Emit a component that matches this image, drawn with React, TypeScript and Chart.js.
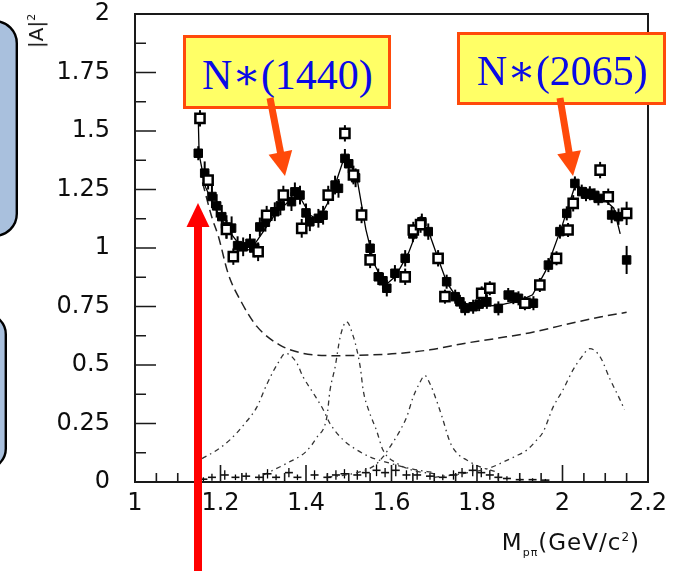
import React, { useEffect, useRef } from 'react';
import { Chart, registerables } from 'chart.js';

Chart.register(...registerables);

// ---- axis ticks ----
const xTickValues = [1, 1.2, 1.4, 1.6, 1.8, 2, 2.2];
const xTickLabels = ['1', '1.2', '1.4', '1.6', '1.8', '2', '2.2'];
const yTickValues = [0, 0.25, 0.5, 0.75, 1, 1.25, 1.5, 1.75, 2];
const yTickLabels = ['0', '0.25', '0.5', '0.75', '1', '1.25', '1.5', '1.75', '2'];

// ---- open-square data ----
const openX = [1.152, 1.171, 1.214, 1.230, 1.288, 1.308, 1.347, 1.390, 1.452, 1.491, 1.511, 1.530, 1.550, 1.632, 1.651, 1.668, 1.709, 1.725, 1.811, 1.830, 1.912, 1.947, 1.986, 2.013, 2.025, 2.088, 2.107, 2.150];
const openY = [1.554, 1.290, 1.080, 0.963, 0.984, 1.140, 1.226, 1.084, 1.226, 1.490, 1.312, 1.141, 0.949, 0.877, 1.077, 1.100, 0.956, 0.792, 0.806, 0.828, 0.764, 0.842, 0.956, 1.077, 1.191, 1.333, 1.219, 1.148];
const openErr = [0.035, 0.04, 0.04, 0.035, 0.04, 0.04, 0.04, 0.04, 0.04, 0.035, 0.04, 0.035, 0.035, 0.035, 0.035, 0.035, 0.035, 0.03, 0.03, 0.03, 0.03, 0.03, 0.03, 0.03, 0.035, 0.035, 0.035, 0.05];

// ---- filled data ----
const fillX = [1.148, 1.163, 1.180, 1.191, 1.203, 1.214, 1.226, 1.240, 1.253, 1.269, 1.280, 1.292, 1.305, 1.327, 1.340, 1.366, 1.374, 1.386, 1.400, 1.409, 1.429, 1.440, 1.468, 1.476, 1.491, 1.500, 1.516, 1.550, 1.569, 1.580, 1.589, 1.608, 1.632, 1.650, 1.671, 1.686, 1.729, 1.749, 1.760, 1.772, 1.791, 1.805, 1.823, 1.850, 1.873, 1.885, 1.897, 1.932, 1.967, 1.994, 2.010, 2.029, 2.045, 2.055, 2.064, 2.075, 2.084, 2.115, 2.131, 2.150];
const fillY = [1.405, 1.320, 1.220, 1.180, 1.134, 1.090, 1.085, 1.010, 1.005, 1.020, 1.000, 1.090, 1.110, 1.155, 1.180, 1.198, 1.240, 1.226, 1.150, 1.112, 1.127, 1.140, 1.269, 1.255, 1.383, 1.360, 1.300, 0.999, 0.877, 0.860, 0.828, 0.892, 0.956, 1.060, 1.112, 1.070, 0.856, 0.792, 0.770, 0.742, 0.749, 0.760, 0.770, 0.742, 0.799, 0.790, 0.785, 0.764, 0.927, 1.070, 1.148, 1.276, 1.241, 1.230, 1.234, 1.225, 1.212, 1.141, 1.134, 0.949];
const fillErr = [0.03, 0.05, 0.05, 0.05, 0.05, 0.05, 0.05, 0.04, 0.04, 0.04, 0.04, 0.04, 0.04, 0.04, 0.04, 0.04, 0.04, 0.04, 0.04, 0.04, 0.04, 0.04, 0.04, 0.04, 0.04, 0.04, 0.04, 0.035, 0.035, 0.035, 0.035, 0.035, 0.035, 0.035, 0.035, 0.035, 0.03, 0.03, 0.03, 0.03, 0.03, 0.03, 0.03, 0.03, 0.03, 0.03, 0.03, 0.03, 0.03, 0.03, 0.03, 0.03, 0.03, 0.03, 0.03, 0.03, 0.03, 0.035, 0.035, 0.06];

// ---- fit curve ----
const fitX = [1.148, 1.150, 1.165, 1.185, 1.200, 1.225, 1.250, 1.270, 1.300, 1.330, 1.360, 1.385, 1.410, 1.430, 1.450, 1.470, 1.490, 1.500, 1.520, 1.540, 1.560, 1.585, 1.610, 1.640, 1.665, 1.685, 1.710, 1.730, 1.760, 1.800, 1.850, 1.900, 1.930, 1.960, 2.000, 2.030, 2.060, 2.090, 2.120, 2.135];
const fitY = [1.555, 1.400, 1.260, 1.180, 1.130, 1.060, 1.000, 0.990, 1.070, 1.150, 1.200, 1.220, 1.140, 1.120, 1.190, 1.280, 1.390, 1.380, 1.290, 1.080, 0.930, 0.840, 0.880, 0.980, 1.100, 1.080, 0.950, 0.850, 0.770, 0.750, 0.755, 0.775, 0.800, 0.900, 1.100, 1.270, 1.240, 1.220, 1.170, 1.060];

// ---- background (dashed) ----
const bgX = [1.158, 1.180, 1.195, 1.218, 1.250, 1.285, 1.339, 1.393, 1.472, 1.550, 1.620, 1.690, 1.776, 1.850, 1.930, 2.000, 2.088, 2.150];
const bgY = [1.280, 1.130, 1.050, 0.890, 0.765, 0.665, 0.585, 0.550, 0.540, 0.543, 0.550, 0.565, 0.594, 0.615, 0.640, 0.670, 0.705, 0.725];

// ---- resonance contributions (dash-dot) ----
const r1X = [1.157, 1.192, 1.222, 1.257, 1.285, 1.309, 1.335, 1.352, 1.378, 1.393, 1.417, 1.440, 1.456, 1.487, 1.519, 1.550, 1.597, 1.650, 1.700];
const r1Y = [0.100, 0.137, 0.180, 0.250, 0.320, 0.420, 0.510, 0.550, 0.510, 0.450, 0.380, 0.310, 0.250, 0.180, 0.137, 0.107, 0.080, 0.055, 0.040];
const r2X = [1.300, 1.355, 1.400, 1.425, 1.449, 1.456, 1.468, 1.480, 1.495, 1.511, 1.519, 1.527, 1.534, 1.546, 1.565, 1.580, 1.613, 1.650, 1.700];
const r2Y = [0.030, 0.080, 0.130, 0.190, 0.280, 0.390, 0.490, 0.620, 0.685, 0.620, 0.565, 0.490, 0.390, 0.310, 0.220, 0.137, 0.080, 0.050, 0.035];
const r3X = [1.450, 1.520, 1.560, 1.580, 1.600, 1.620, 1.636, 1.650, 1.665, 1.678, 1.690, 1.697, 1.718, 1.737, 1.755, 1.776, 1.800, 1.850];
const r3Y = [0.020, 0.040, 0.070, 0.107, 0.160, 0.220, 0.280, 0.360, 0.420, 0.455, 0.420, 0.390, 0.280, 0.170, 0.120, 0.094, 0.070, 0.040];
const r4X = [1.700, 1.780, 1.830, 1.861, 1.890, 1.917, 1.940, 1.955, 1.978, 2.000, 2.025, 2.045, 2.064, 2.088, 2.111, 2.135, 2.145];
const r4Y = [0.020, 0.040, 0.060, 0.085, 0.110, 0.137, 0.180, 0.215, 0.320, 0.390, 0.480, 0.535, 0.570, 0.535, 0.440, 0.350, 0.310];

// ---- small terms near zero ----
const smallX = [1.16, 1.18, 1.21, 1.235, 1.26, 1.29, 1.31, 1.33, 1.36, 1.38, 1.42, 1.45, 1.47, 1.49, 1.52, 1.54, 1.565, 1.585, 1.61, 1.635, 1.66, 1.69, 1.72, 1.745, 1.765, 1.79, 1.81, 1.83, 1.85, 1.87, 1.90, 1.93, 1.96];
const smallY = [0.012, 0.020, 0.030, 0.020, 0.025, 0.020, 0.035, 0.020, 0.040, 0.020, 0.030, 0.020, 0.030, 0.035, 0.030, 0.040, 0.050, 0.040, 0.050, 0.030, 0.030, 0.025, 0.020, 0.030, 0.040, 0.050, 0.040, 0.030, 0.020, 0.015, 0.010, 0.010, 0.008];
const smallErr = [0.008, 0.015, 0.02, 0.012, 0.015, 0.012, 0.02, 0.012, 0.02, 0.012, 0.02, 0.012, 0.02, 0.02, 0.02, 0.02, 0.025, 0.02, 0.025, 0.02, 0.02, 0.015, 0.012, 0.02, 0.02, 0.025, 0.02, 0.02, 0.012, 0.01, 0.006, 0.006, 0.005];

const pts = (xs: number[], ys: number[]) => xs.map((x, i) => ({ x, y: ys[i] }));

const FONT = 'DejaVu Sans';

const rootPlugin = {
  id: 'rootStyle',
  beforeDatasetsDraw(chart: any) {
    const ctx = chart.ctx;
    const xs = chart.scales.x;
    const ys = chart.scales.y;
    chart.data.datasets.forEach((ds: any) => {
      const errs = ds.errors;
      if (!errs) return;
      ctx.save();
      ctx.strokeStyle = '#000';
      ctx.lineWidth = ds.errWidth || 2;
      ds.data.forEach((p: any, j: number) => {
        const e = errs[j];
        const px = xs.getPixelForValue(p.x);
        ctx.beginPath();
        ctx.moveTo(px, ys.getPixelForValue(p.y - e));
        ctx.lineTo(px, ys.getPixelForValue(p.y + e));
        ctx.stroke();
      });
      ctx.restore();
    });
  },
  afterDraw(chart: any) {
    const ctx = chart.ctx;
    const a = chart.chartArea;
    const xs = chart.scales.x;
    const ys = chart.scales.y;
    ctx.save();
    ctx.strokeStyle = '#1a1a1a';
    ctx.lineWidth = 2;
    ctx.strokeRect(a.left, a.top, a.right - a.left, a.bottom - a.top);
    ctx.lineWidth = 1.6;
    ctx.beginPath();
    const xt = xs.ticks.map((t: any) => t.value);
    for (let i = 0; i < xt.length; i++) {
      const p = xs.getPixelForValue(xt[i]);
      ctx.moveTo(p, a.bottom);
      ctx.lineTo(p, a.bottom - 17);
      if (i < xt.length - 1) {
        for (let k = 1; k < 4; k++) {
          const v = xt[i] + ((xt[i + 1] - xt[i]) * k) / 4;
          const q = xs.getPixelForValue(v);
          ctx.moveTo(q, a.bottom);
          ctx.lineTo(q, a.bottom - 9);
        }
      }
    }
    const yt = ys.ticks.map((t: any) => t.value);
    for (let i = 0; i < yt.length; i++) {
      const p = ys.getPixelForValue(yt[i]);
      ctx.moveTo(a.left, p);
      ctx.lineTo(a.left + 21, p);
      if (i < yt.length - 1) {
        const v = (yt[i] + yt[i + 1]) / 2;
        const q = ys.getPixelForValue(v);
        ctx.moveTo(a.left, q);
        ctx.lineTo(a.left + 11, q);
      }
    }
    ctx.stroke();
    ctx.restore();
  },
};

const lookup = (vals: number[], labels: string[]) => (value: any) => {
  const i = vals.findIndex((t) => Math.abs(t - Number(value)) < 1e-9);
  return i >= 0 ? labels[i] : '';
};

export default function App() {
  const canvasRef = useRef<HTMLCanvasElement | null>(null);

  useEffect(() => {
    if (!canvasRef.current) return;
    const resonance = (xs: number[], ys: number[]) => ({
      data: pts(xs, ys),
      showLine: true,
      pointRadius: 0,
      borderColor: '#333',
      borderWidth: 1.3,
      borderDash: [5, 4, 1.5, 4],
      cubicInterpolationMode: 'monotone',
      fill: false,
    });
    const chart = new Chart(canvasRef.current, {
      type: 'scatter',
      data: {
        datasets: [
          {
            data: pts(openX, openY),
            errors: openErr,
            pointStyle: 'rect',
            pointRadius: 6.5,
            backgroundColor: '#fff',
            borderColor: '#000',
            borderWidth: 2.5,
          } as any,
          {
            data: pts(fillX, fillY),
            errors: fillErr,
            pointStyle: 'rect',
            pointRadius: 6,
            backgroundColor: '#000',
            borderColor: '#000',
            borderWidth: 1,
          } as any,
          {
            data: pts(smallX, smallY),
            errors: smallErr,
            errWidth: 1.3,
            pointStyle: 'line',
            pointRadius: 4,
            borderColor: '#111',
            borderWidth: 1.6,
          } as any,
          {
            data: pts(fitX, fitY),
            showLine: true,
            pointRadius: 0,
            borderColor: '#000',
            borderWidth: 1.3,
            tension: 0,
          } as any,
          {
            data: pts(bgX, bgY),
            showLine: true,
            pointRadius: 0,
            borderColor: '#222',
            borderWidth: 1.5,
            borderDash: [9, 5],
            cubicInterpolationMode: 'monotone',
          } as any,
          resonance(r1X, r1Y) as any,
          resonance(r2X, r2Y) as any,
          resonance(r3X, r3Y) as any,
          resonance(r4X, r4Y) as any,
        ],
      },
      options: {
        responsive: false,
        animation: false,
        devicePixelRatio: 1,
        layout: { padding: { left: 0, right: 26, top: 14, bottom: 0 } },
        plugins: {
          legend: { display: false },
          tooltip: { enabled: false },
          title: { display: false },
        },
        scales: {
          x: {
            type: 'linear',
            min: 1,
            max: 2.2,
            grid: { display: false, drawTicks: false },
            border: { display: false },
            ticks: {
              font: { family: FONT, size: 24 },
              color: '#0d0d0d',
              padding: 7,
              maxRotation: 0,
              autoSkip: false,
              callback: lookup(xTickValues, xTickLabels),
            },
            afterBuildTicks: (s: any) => {
              s.ticks = xTickValues.map((v) => ({ value: v }));
            },
            afterFit: (s: any) => {
              s.height = 89;
              s.paddingLeft = 0;
              s.paddingRight = 0;
            },
          },
          y: {
            type: 'linear',
            min: 0,
            max: 2,
            grid: { display: false, drawTicks: false },
            border: { display: false },
            ticks: {
              font: { family: FONT, size: 24 },
              color: '#0d0d0d',
              padding: 25,
              autoSkip: false,
              callback: lookup(yTickValues, yTickLabels),
            },
            afterBuildTicks: (s: any) => {
              s.ticks = yTickValues.map((v) => ({ value: v }));
            },
            afterFit: (s: any) => {
              s.width = 135;
              s.paddingTop = 0;
              s.paddingBottom = 0;
            },
          },
        },
      } as any,
      plugins: [rootPlugin],
    });
    return () => chart.destroy();
  }, []);

  const noteBox = (left: number, top: number, w: number, h: number) => (
    <div
      style={{
        position: 'absolute',
        left,
        top,
        width: w,
        height: h,
        boxSizing: 'border-box',
        border: '3px solid #ff4a0a',
        background: '#ffff66',
      }}
    />
  );
  const noteText = (left: number, top: number, text: string) => (
    <div
      style={{
        position: 'absolute',
        left,
        top,
        fontFamily: '"Liberation Serif", "DejaVu Serif", serif',
        fontSize: 42,
        lineHeight: '42px',
        color: '#0a0ae6',
        whiteSpace: 'nowrap',
      }}
    >
      {text}
    </div>
  );

  return (
    <div
      style={{
        position: 'absolute',
        left: 0,
        top: 0,
        width: 674,
        height: 571,
        background: '#fff',
        overflow: 'hidden',
      }}
    >
      <svg width={674} height={571} style={{ position: 'absolute', left: 0, top: 0 }}>
        <rect x={-60} y={21.2} width={76.8} height={214.6} rx={22} ry={22} fill="#a9c0dd" stroke="#000" strokeWidth={2.4} />
        <rect x={-60} y={314.2} width={65.8} height={154.6} rx={20} ry={20} fill="#a9c0dd" stroke="#000" strokeWidth={2.4} />
      </svg>
      <canvas
        ref={canvasRef}
        width={674}
        height={571}
        style={{ position: 'absolute', left: 0, top: 0, width: 674, height: 571 }}
      />
      <div
        style={{
          position: 'absolute',
          left: 36,
          top: 31,
          transform: 'translate(-50%, -50%) rotate(-90deg)',
          fontFamily: FONT,
          fontSize: 20,
          lineHeight: '20px',
          color: '#111',
          whiteSpace: 'nowrap',
        }}
      >
        |A|<sup style={{ fontSize: 11, verticalAlign: 'super', lineHeight: 0 }}>2</sup>
      </div>
      <div
        style={{
          position: 'absolute',
          right: 34,
          top: 531,
          fontFamily: FONT,
          fontSize: 23,
          lineHeight: '23px',
          color: '#111',
          whiteSpace: 'nowrap',
          letterSpacing: 1,
        }}
      >
        M<sub style={{ fontSize: 11, lineHeight: 0 }}>pπ</sub>(GeV/c<sup style={{ fontSize: 12, lineHeight: 0 }}>2</sup>)
      </div>
      {noteBox(183, 35, 208, 74)}
      {noteText(202, 53.5, 'N∗(1440)')}
      {noteBox(457, 32, 209, 73)}
      {noteText(477, 49.5, 'N∗(2065)')}
      <svg width={674} height={571} style={{ position: 'absolute', left: 0, top: 0 }}>
        <line x1={270} y1={98} x2={281} y2={155} stroke="#ff4a0a" strokeWidth={7} />
        <polygon points="285,176 292.2,150.1 268.6,154.7" fill="#ff4a0a" />
        <line x1={560} y1={98} x2={569.5} y2={155} stroke="#ff4a0a" strokeWidth={7} />
        <polygon points="573,176 580.9,150.3 557.3,154.3" fill="#ff4a0a" />
        <rect x={194} y={225} width={8} height={346} fill="#ff0000" />
        <polygon points="198,203 209.5,227 186.5,227" fill="#ff0000" />
      </svg>
    </div>
  );
}
